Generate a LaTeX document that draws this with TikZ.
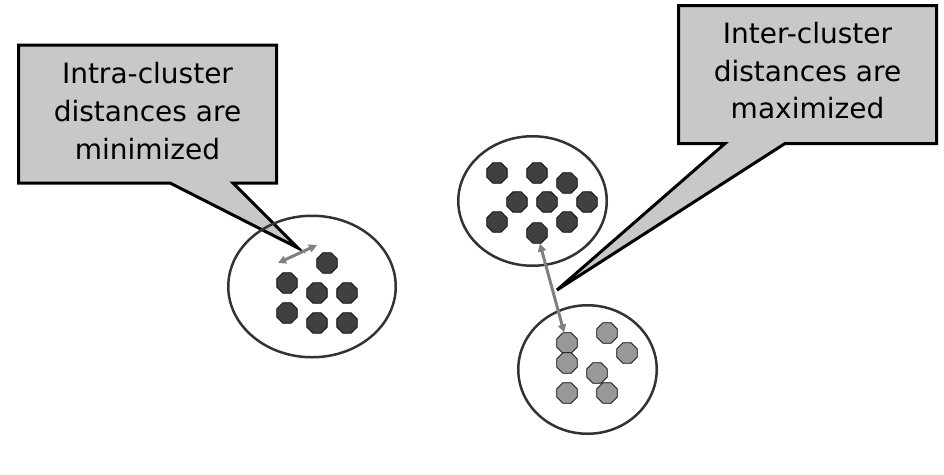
\documentclass[tikz,border=0pt]{standalone}
\usepackage{fontspec}
\setmainfont{DejaVu Sans}
\usepackage{tikz}
\usetikzlibrary{shapes.geometric,arrows.meta,backgrounds}

\definecolor{boxgray}{RGB}{200,200,200}
\definecolor{dotdark}{RGB}{64,64,64}
\definecolor{dotlight}{RGB}{153,153,153}
\definecolor{ringgray}{RGB}{51,51,51}
\definecolor{arrowgray}{RGB}{128,128,128}

\tikzset{
    callbox/.style={minimum width=258pt, minimum height=138pt, outer sep=0pt, inner sep=0pt, align=center, font=\fontsize{28}{38}\selectfont},
    callline/.style={draw=black, fill=boxgray, line width=3pt, line join=miter},
    clusterring/.style={draw=ringgray, line width=2.5pt, ellipse, inner sep=0pt},
    dotA/.style={draw=black, line width=0.8pt, fill=dotdark, regular polygon, regular polygon sides=8, minimum size=22pt, inner sep=0pt},
    dotB/.style={dotA, fill=dotlight},
    distarrow/.style={draw=arrowgray, line width=3pt, {Triangle[length=8pt,width=8pt]}-{Triangle[length=8pt,width=8pt]}}
}

\begin{document}
\begin{tikzpicture}[x=1pt, y=-1pt]
    \useasboundingbox (0, 0) rectangle (944, 474);

    \node[clusterring, minimum width=167.5pt, minimum height=141.5pt] at (312, 286.5) (C1) {};
    \node[clusterring, minimum width=148.5pt, minimum height=129.5pt] at (532.5, 201) (C2) {};
    \node[clusterring, minimum width=138.5pt, minimum height=128.5pt] at (587.5, 369.5) (C3) {};

    \foreach \n/\x/\y in {1/327/263, 2/287/283, 3/317/293, 4/347/293, 5/287/313, 6/317/323, 7/347/323}
        \node[dotA] at (\x, \y) (C1P\n) {};
    \foreach \n/\x/\y in {1/497/173, 2/537/173, 3/567/183, 4/517/202, 5/547/202, 6/587/202, 7/497/222, 8/567/222, 9/537/233}
        \node[dotA] at (\x, \y) (C2P\n) {};
    \foreach \n/\x/\y in {1/567/343, 2/567/363, 3/607/333, 4/627/353, 5/597/373, 6/567/393, 7/607/393}
        \node[dotB] at (\x, \y) (C3P\n) {};

    % callouts
    \node[callbox] at (147.5, 114) (intraBox) {};
    \node[align=center, font=\fontsize{28}{38}\selectfont] at (147.5, 111) (intraText) {Intra-cluster\\distances are\\minimized};
    \coordinate (intraTip) at (298, 248);
    \coordinate (intraL) at (170, 0);
    \coordinate (intraR) at (233, 0);

    \node[callbox] at (807.5, 74.5) (interBox) {};
    \node[align=center, font=\fontsize{28}{37.5}\selectfont] at (807.5, 71) (interText) {Inter-cluster\\distances are\\maximized};
    \coordinate (interTip) at (557, 290);
    \coordinate (interL) at (725, 0);
    \coordinate (interR) at (785, 0);

    \begin{scope}[on background layer]
        \draw[callline] (intraBox.south west) -- (intraBox.north west) -- (intraBox.north east) -- (intraBox.south east)
            -- (intraBox.south -| intraR) -- (intraTip) -- (intraBox.south -| intraL) -- cycle;
        \draw[callline] (interBox.south west) -- (interBox.north west) -- (interBox.north east) -- (interBox.south east)
            -- (interBox.south -| interR) -- (interTip) -- (interBox.south -| interL) -- cycle;
    \end{scope}

    \coordinate (intraA) at (278, 263);
    \coordinate (intraB) at (317, 245);
    \draw[distarrow] (intraA) -- (intraB);
    \draw[distarrow] (C2P9) -- (C3P1);
\end{tikzpicture}
\end{document}
